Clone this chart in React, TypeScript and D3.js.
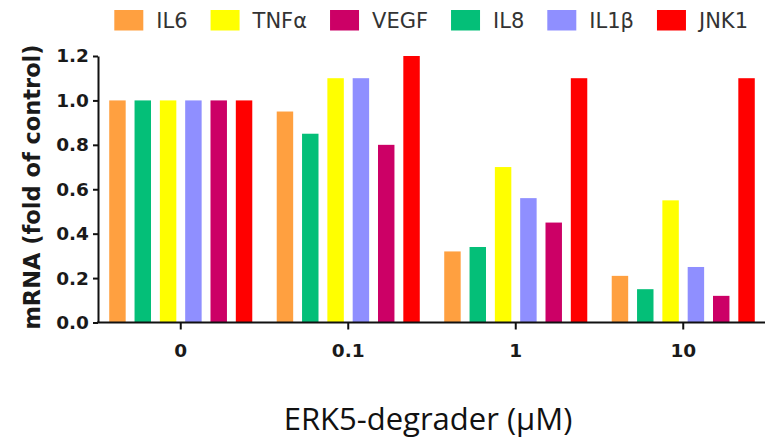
import React, { useEffect, useRef } from "react";
import * as d3 from "d3";

const categories = ["0", "0.1", "1", "10"];
const series = ["IL6", "IL8", "TNFα", "IL1β", "VEGF", "JNK1"];
const legendOrder = ["IL6", "TNFα", "VEGF", "IL8", "IL1β", "JNK1"];
const seriesColors = ["#FFA040", "#04BF78", "#FFFF00", "#8F8FFF", "#CC0066", "#FF0000"];

const il6 = [1.0, 0.95, 0.32, 0.21];
const il8 = [1.0, 0.85, 0.34, 0.15];
const tnfa = [1.0, 1.1, 0.7, 0.55];
const il1b = [1.0, 1.1, 0.56, 0.25];
const vegf = [1.0, 0.8, 0.45, 0.12];
const jnk1 = [1.0, 1.2, 1.1, 1.1];
const seriesValues = [il6, il8, tnfa, il1b, vegf, jnk1];

const yTicks = [0, 0.2, 0.4, 0.6, 0.8, 1.0, 1.2];

const W = 773;
const H = 439;

export default function App() {
  const ref = useRef<SVGSVGElement | null>(null);

  useEffect(() => {
    const svg = d3.select(ref.current);
    svg.selectAll("*").remove();

    const x0 = d3.scaleBand<string>().domain(categories).range([97, 767]).paddingInner(0.146).paddingOuter(0.073);
    const x1 = d3.scaleBand<string>().domain(series).range([0, x0.bandwidth()]).paddingInner(0.35);
    const y = d3.scaleLinear().domain([0, 1.2]).range([322.5, 56]);
    const color = d3.scaleOrdinal<string, string>().domain(series).range(seriesColors);

    // bars
    const data = categories.flatMap((c, ci) =>
      series.map((s, si) => ({ c, s, v: seriesValues[si][ci] }))
    );
    svg.append("g")
      .selectAll("rect")
      .data(data)
      .join("rect")
      .attr("x", (d) => (x0(d.c) as number) + (x1(d.s) as number))
      .attr("y", (d) => y(d.v))
      .attr("width", x1.bandwidth())
      .attr("height", (d) => y(0) - y(d.v))
      .attr("fill", (d) => color(d.s));

    const tickFont = "'DejaVu Sans', Verdana, sans-serif";

    // y axis
    const yAxis = svg.append("g")
      .attr("transform", "translate(98,0)")
      .call(
        d3.axisLeft(y).tickValues(yTicks).tickFormat(d3.format(".1f")).tickSize(5).tickSizeOuter(0).tickPadding(4)
      );
    yAxis.select(".domain").attr("stroke", "#111").attr("stroke-width", 2);
    yAxis.selectAll(".tick line").attr("stroke", "#111").attr("stroke-width", 2);
    yAxis.selectAll(".tick text")
      .attr("font-family", tickFont)
      .attr("font-weight", "bold")
      .attr("font-size", 18.5)
      .attr("fill", "#1a1a1a");

    // x axis
    const xAxis = svg.append("g")
      .attr("transform", `translate(0,${y(0)})`)
      .call(d3.axisBottom(x0).tickSize(7).tickSizeOuter(0).tickPadding(14));
    xAxis.select(".domain").attr("stroke", "#111").attr("stroke-width", 2)
      .attr("d", "M97,0H765");
    xAxis.selectAll(".tick line").attr("stroke", "#111").attr("stroke-width", 2);
    xAxis.selectAll(".tick text")
      .attr("font-family", tickFont)
      .attr("font-weight", "bold")
      .attr("font-size", 18.5)
      .attr("fill", "#1a1a1a");

    // y label
    svg.append("text")
      .attr("transform", "translate(32,187) rotate(-90)")
      .attr("text-anchor", "middle")
      .attr("dominant-baseline", "central")
      .attr("font-family", tickFont)
      .attr("font-weight", "bold")
      .attr("font-size", 22.5)
      .attr("fill", "#1a1a1a")
      .text("mRNA (fold of control)");

    // x title
    svg.append("text")
      .attr("x", 428)
      .attr("y", 430)
      .attr("text-anchor", "middle")
      .attr("font-family", "'Open Sans', Lato, sans-serif")
      .attr("font-size", 31)
      .attr("fill", "#111")
      .text("ERK5-degrader (μM)");

    // legend
    const legend = svg.append("g");
    let lx = 114.3;
    legendOrder.forEach((name) => {
      const g = legend.append("g").attr("transform", `translate(${lx},10)`);
      g.append("rect").attr("width", 29).attr("height", 20.5).attr("fill", color(name));
      const t = g.append("text")
        .attr("x", 42)
        .attr("y", 11)
        .attr("dominant-baseline", "central")
        .attr("font-family", tickFont)
        .attr("font-size", 21)
        .attr("fill", "#333")
        .text(name);
      const w = (t.node() as SVGTextElement).getComputedTextLength();
      lx += 42 + w + 23;
    });
  }, []);

  return (
    <svg
      ref={ref}
      width={W}
      height={H}
      style={{ position: "absolute", left: 0, top: 0, background: "#fff" }}
    />
  );
}
